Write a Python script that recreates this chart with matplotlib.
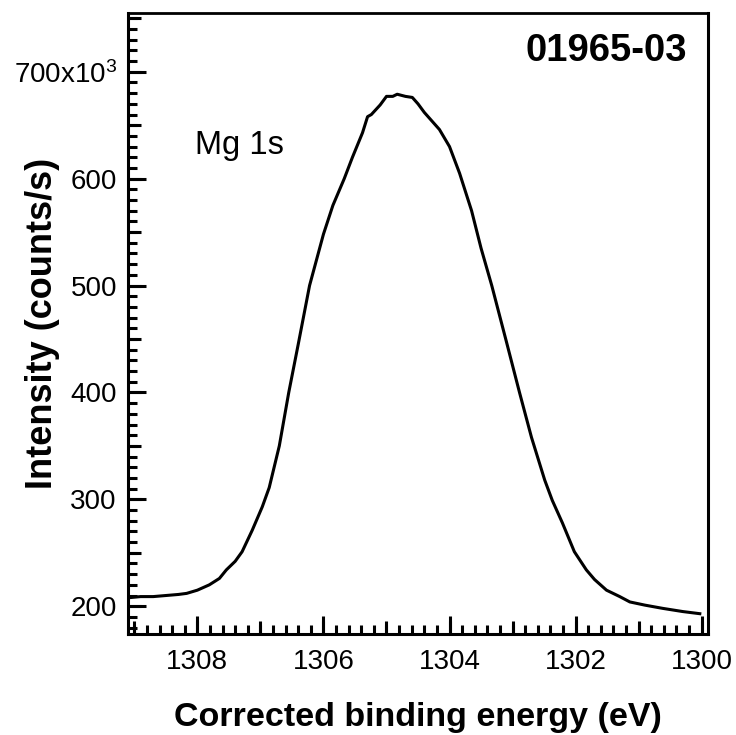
import matplotlib
matplotlib.use("Agg")
import matplotlib.pyplot as plt
from matplotlib.ticker import MultipleLocator, FuncFormatter, NullFormatter

plt.rcParams['font.family'] = ['Liberation Sans', 'DejaVu Sans']
plt.rcParams['mathtext.fontset'] = 'custom'
plt.rcParams['mathtext.rm'] = 'Liberation Sans'
plt.rcParams['mathtext.it'] = 'Liberation Sans'
plt.rcParams['mathtext.default'] = 'regular'

# Data (binding energy in eV, intensity in counts/s)
energy = [1309.08, 1308.9, 1308.7, 1308.5, 1308.3, 1308.17, 1308.0, 1307.81,
          1307.65, 1307.54, 1307.4, 1307.29, 1307.13, 1306.97, 1306.86, 1306.7,
          1306.55, 1306.4, 1306.22, 1306.0, 1305.85, 1305.67, 1305.54, 1305.38,
          1305.3, 1305.24, 1305.1, 1305.0, 1304.9, 1304.83, 1304.7, 1304.59,
          1304.5, 1304.4, 1304.16, 1304.0, 1303.84, 1303.65, 1303.5, 1303.33,
          1303.1, 1302.89, 1302.7, 1302.49, 1302.37, 1302.21, 1302.02, 1301.83,
          1301.7, 1301.51, 1301.3, 1301.14, 1300.9, 1300.62, 1300.3, 1300.03]
intensity = [208, 209, 209, 210, 211, 212, 215, 220,
             226, 234, 242, 251, 271, 293, 311, 350,
             400, 445, 500, 548, 575, 600, 620, 643,
             658, 660, 669, 677, 677, 679, 677, 676,
             670, 662, 646, 630, 605, 570, 535, 500,
             448, 400, 358, 318, 299, 278, 251, 234,
             225, 215, 209, 204, 201, 198, 195, 193]
intensity_counts = [v * 1000 for v in intensity]

xlim = (1309.1, 1299.9)
ylim = (174e3, 755e3)
sample_label = "01965-03"
peak_label = "Mg 1s"
xlabel = "Corrected binding energy (eV)"
ylabel = "Intensity (counts/s)"

fig = plt.figure(figsize=(7.36, 7.35), dpi=100)
ax = fig.add_axes([128/736, 1 - 634/735, 580/736, 621/735])

ax.plot(energy, intensity_counts, color='black', lw=2.2)
ax.set_xlim(*xlim)
ax.set_ylim(*ylim)

for s in ax.spines.values():
    s.set_linewidth(2.2)
ax.spines['top'].set_linewidth(2.0)

# x ticks
ax.xaxis.set_major_locator(MultipleLocator(2))
ax.xaxis.set_minor_locator(MultipleLocator(0.2))
ax.xaxis.set_major_formatter(FuncFormatter(lambda v, p: f"{v:.0f}"))
# y ticks
ax.yaxis.set_major_locator(MultipleLocator(100e3))
ax.yaxis.set_minor_locator(MultipleLocator(10e3))

def yfmt(v, p):
    k = int(round(v / 1000))
    if k == 700:
        return "700x10$^3$"
    return f"{k}"
ax.yaxis.set_major_formatter(FuncFormatter(yfmt))

ax.tick_params(axis='both', which='major', direction='in', length=13, width=2.2,
               labelsize=20, top=False, right=False)
ax.tick_params(axis='both', which='minor', direction='in', length=6.5, width=2.2,
               top=False, right=False)
ax.tick_params(axis='x', which='major', pad=11)
ax.tick_params(axis='y', which='major', pad=8)

# medium ticks
secx = ax.secondary_xaxis('bottom')
secx.xaxis.set_major_locator(MultipleLocator(1))
secx.xaxis.set_major_formatter(NullFormatter())
secx.xaxis.set_minor_locator(MultipleLocator(100))
secx.tick_params(which='major', direction='in', length=9.5, width=2.2)
for s in secx.spines.values():
    s.set_visible(False)

secy = ax.secondary_yaxis('left')
secy.yaxis.set_major_locator(MultipleLocator(50e3))
secy.yaxis.set_major_formatter(NullFormatter())
secy.yaxis.set_minor_locator(MultipleLocator(1e9))
secy.tick_params(which='major', direction='in', length=9.5, width=2.2)
for s in secy.spines.values():
    s.set_visible(False)

ax.set_xlabel(xlabel, fontsize=24.5, fontweight='bold')
ax.set_ylabel(ylabel, fontsize=26, fontweight='bold')
ax.xaxis.set_label_coords(0.5, -0.11)
ax.yaxis.set_label_coords(-0.118, 0.5)

ax.text((687-128)/580, 1 - (51-13)/621, sample_label, transform=ax.transAxes,
        ha='right', va='center', fontsize=27.5, fontweight='bold')
ax.text((195-128)/580, 1 - (154-13)/621, peak_label, transform=ax.transAxes,
        ha='left', va='baseline', fontsize=23.5)

fig.savefig("out.png", dpi=100)
